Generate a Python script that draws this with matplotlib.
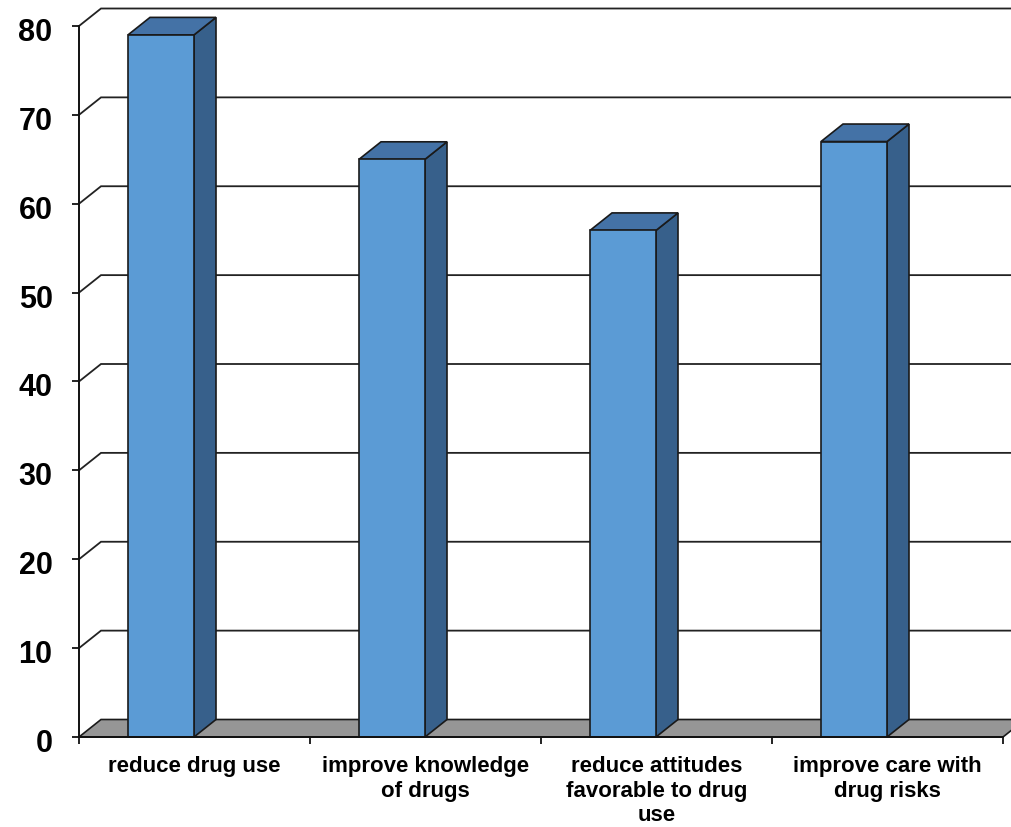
import matplotlib
matplotlib.use("Agg")
import matplotlib.pyplot as plt
import matplotlib.transforms as mtransforms
from matplotlib.patches import Polygon, Rectangle

plt.rcParams['font.family'] = ['Liberation Sans', 'DejaVu Sans']

categories = ["reduce drug use", "improve knowledge\nof drugs",
              "reduce attitudes\nfavorable to drug\nuse", "improve care with\ndrug risks"]
values = [79, 65, 57, 67]
yticks = [0, 10, 20, 30, 40, 50, 60, 70, 80]

FRONT = "#5B9BD5"
TOP = "#4472A6"
SIDE = "#37608B"
FLOOR = "#969696"
EDGE = "#1a1a1a"

fig = plt.figure(figsize=(10.12, 8.27), dpi=100)
ax = fig.add_axes([79 / 1012, 90 / 827, 924 / 1012, 711 / 827])
n = len(categories)
ax.set_xlim(0, n)
ax.set_ylim(0, 80)

# depth offset of the 3D box, in data units
px_x = 924 / n
px_y = 711 / 80
ddx = 22 / px_x
ddy = 17.5 / px_y

# side wall + back wall gridlines
for v in yticks[1:]:
    ax.plot([0, ddx, n + ddx + 0.2], [v, v + ddy, v + ddy], color="#222222",
            lw=1.3, clip_on=False, zorder=1, solid_joinstyle="miter")

# floor
floor = Polygon([(0, 0), (n, 0), (n + ddx, ddy), (ddx, ddy)], closed=True,
                facecolor=FLOOR, edgecolor=EDGE, lw=1.2, clip_on=False, zorder=2)
ax.add_patch(floor)

# bars
bar_off = 49 / px_x
bar_w = 66 / px_x
for i, v in enumerate(values):
    x0 = i + bar_off
    x1 = x0 + bar_w
    side = Polygon([(x1, 0), (x1 + ddx, ddy), (x1 + ddx, v + ddy), (x1, v)], closed=True,
                   facecolor=SIDE, edgecolor=EDGE, lw=1.2, clip_on=False, zorder=3)
    top = Polygon([(x0, v), (x1, v), (x1 + ddx, v + ddy), (x0 + ddx, v + ddy)], closed=True,
                  facecolor=TOP, edgecolor=EDGE, lw=1.2, clip_on=False, zorder=3)
    front = Rectangle((x0, 0), bar_w, v, facecolor=FRONT, edgecolor=EDGE, lw=1.2,
                      clip_on=False, zorder=4)
    for p in (side, top, front):
        ax.add_patch(p)

# axes styling
for s in ("top", "right"):
    ax.spines[s].set_visible(False)
for s in ("left", "bottom"):
    ax.spines[s].set_color("#111111")
    ax.spines[s].set_linewidth(1.4)
    ax.spines[s].set_zorder(5)
ax.set_facecolor("none")

ax.set_yticks(yticks)
ax.set_yticklabels([str(t) for t in yticks], fontsize=22, fontweight="bold")
ax.tick_params(axis="y", direction="out", length=5, width=1.3, pad=14, colors="#111111",
               labelcolor="black")
# nudge y labels slightly below their ticks
offset = mtransforms.ScaledTranslation(0, -2.5 / 72, fig.dpi_scale_trans)
for lbl in ax.get_yticklabels():
    lbl.set_transform(lbl.get_transform() + offset)

ax.set_xticks(range(n + 1))
ax.set_xticklabels([])
ax.tick_params(axis="x", which="major", direction="out", length=5, width=1.3, colors="#111111")
ax.set_xticks([i + 0.5 for i in range(n)], minor=True)
ax.set_xticklabels(categories, minor=True, fontsize=16, fontweight="bold",
                   linespacing=1.22)
ax.tick_params(axis="x", which="minor", length=0, pad=14, labelcolor="black")

fig.savefig("out.png", dpi=100, facecolor="white")
